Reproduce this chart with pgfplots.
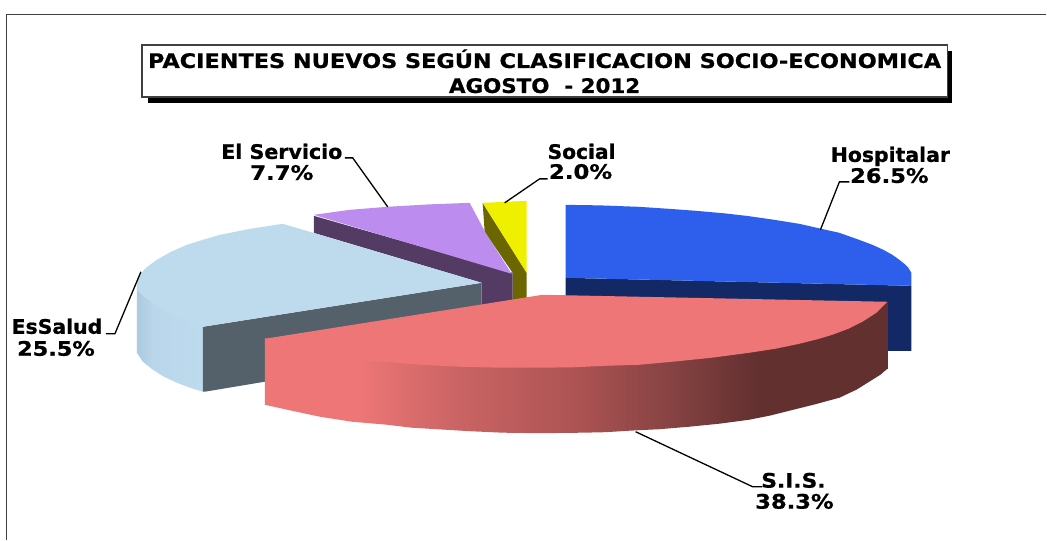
\documentclass[border=0pt]{standalone}
\usepackage{graphicx}
\usepackage{pgfplots}
\pgfplotsset{compat=1.18}
\usepackage{fontspec}
\setmainfont[BoldFeatures={FakeBold=0.8}]{DejaVu Sans}
\definecolor{bluetop}{HTML}{2D5FEC}
\definecolor{bluedark}{HTML}{122966}
\definecolor{redtop}{HTML}{EE7676}
\definecolor{skytop}{HTML}{BEDBEE}
\definecolor{slate}{HTML}{55616A}
\definecolor{violettop}{HTML}{BC8CEE}
\definecolor{violetdark}{HTML}{533B63}
\definecolor{yellowtop}{HTML}{EFEF00}
\definecolor{olive2}{HTML}{6B6600}
\definecolor{redA}{HTML}{CC6565}
\definecolor{redB}{HTML}{AD5353}
\definecolor{redC}{HTML}{874343}
\definecolor{redD}{HTML}{633030}
\definecolor{skyA}{HTML}{ACCBE0}
\definecolor{skyB}{HTML}{B9D6EA}
\pgfdeclarehorizontalshading{redside}{100bp}{
 color(0bp)=(redtop); color(32.5bp)=(redtop); color(40bp)=(redA);
 color(50bp)=(redB); color(57.5bp)=(redC);
 color(64.5bp)=(redD); color(100bp)=(redD)}
\pgfdeclarehorizontalshading{skyside}{100bp}{
 color(0bp)=(skyA); color(25bp)=(skyA); color(37.5bp)=(skyB);
 color(75bp)=(skytop); color(100bp)=(skytop)}
\newcommand{\lab}[4]{\node[anchor=base,inner sep=0pt,font=\fontsize{20}{20}\selectfont\bfseries] at (axis cs:#1,#2) {\scalebox{#4}[1]{#3}};}
\begin{document}
\begin{tikzpicture}
\begin{axis}[
  scale only axis, width=1047pt, height=540pt,
  xmin=0, xmax=1047, ymin=0, ymax=540, y dir=reverse,
  hide axis, clip=false]
% page
\addplot[draw=none, fill=white, forget plot] coordinates {(0,0) (1047,0) (1047,540) (0,540)} -- cycle;
% frame
\addplot[color=black!75, line width=1.5pt, forget plot] coordinates {(6.5,540) (6.5,14.5) (1047,14.5)};
% title box
\addplot[draw=none, fill=black, forget plot] coordinates {(148,51) (953,51) (953,103) (148,103)} -- cycle;
\addplot[draw=black!75, line width=1.3pt, fill=white, forget plot] coordinates {(142,45) (948,45) (948,97) (142,97)} -- cycle;
% Hospitalar
\addplot[draw=none, fill=bluedark, forget plot] coordinates {(566,278) (912,286) (912,351) (880,351) (880,310) (566,310)} -- cycle;
\addplot[draw=none, fill=bluetop, forget plot] coordinates {(566,205) (600,205.5) (640,207) (670,209) (697,211) (725,213.5) (747,216) (775,220) (800,224) (822,229) (840,233) (857,239) (873,245) (884,250) (893,255) (900,260) (905,264) (909,268) (912,273) (912,286) (566,278)} -- cycle;
% Social
\addplot[draw=none, fill=olive2, forget plot] coordinates {(483,203) (485,232) (513,273) (513,303) (527,303) (527,273)} -- cycle;
\addplot[draw=none, fill=yellowtop, forget plot] coordinates {(483,203) (527,201) (527,273)} -- cycle;
% El Servicio
\addplot[draw=none, fill=violetdark, forget plot] coordinates {(314,216) (513,273) (513,303) (482,312) (482,283) (314,233)} -- cycle;
\addplot[draw=none, fill=violettop, forget plot] coordinates {(314,215) (350,210) (387,207) (430,204.5) (470,203) (486,233) (512,274)} -- cycle;
% EsSalud
\addplot[draw=none, shade, shading=skyside, forget plot] coordinates {(137,288) (137,353) (143,362) (153,370) (164,377) (177,383) (190,388) (203,392) (203,327)} -- cycle;
\addplot[draw=none, fill=slate, forget plot] coordinates {(203,327) (482,283) (482,325) (265,382) (205,392) (203,392)} -- cycle;
\addplot[draw=none, fill=skytop, forget plot] coordinates {(283,224) (482,283) (203,327) (190,322.5) (177,317) (165,311) (153,303) (144,297) (137,290) (137,283) (138,277) (146,268) (157,260) (171,252) (187,245) (203,240) (220,235) (250,229)} -- cycle;
% S.I.S.
\addplot[draw=none, shade, shading=redside, forget plot] coordinates {(265,339) (888,302) (888,369) (881,375) (873,380) (857,390) (840,398) (816,404.5) (790,411) (770,416) (750,420) (720,424) (690,427) (660,429.5) (630,431) (606,432.5) (583,433) (540,433.5) (503,433) (470,431.5) (437,429.5) (412,428) (387,425) (352,422) (320,417) (292,411) (265,405)} -- cycle;
\addplot[draw=none, fill=redtop, forget plot] coordinates {(265,339) (543,295) (888,302) (877,313) (863,322) (849,329) (833,335) (818,339.5) (800,344) (776,349) (750,353) (712,358) (673,362) (640,365) (607,366) (575,367.5) (540,368) (503,368) (460,367) (420,365) (370,361) (320,354) (290,347)} -- cycle;
% leaders
\addplot[black, line width=1.3pt, forget plot] coordinates {(345,158) (353,158) (388,207)};
\addplot[black, line width=1.3pt, forget plot] coordinates {(548,179) (540,179) (505,203)};
\addplot[black, line width=1.3pt, forget plot] coordinates {(850,182) (840,182) (821,230)};
\addplot[black, line width=1.3pt, forget plot] coordinates {(106,334) (115,334) (141,272)};
\addplot[black, line width=1.3pt, forget plot] coordinates {(636,432) (753,487) (763,487)};
% labels
\lab{545}{68}{PACIENTES NUEVOS SEGÚN CLASIFICACION SOCIO-ECONOMICA}{1.12}
\lab{545}{93}{AGOSTO\ \ - 2012}{1.07}
\lab{891}{162}{Hospitalar}{1.02}
\lab{890}{183}{26.5\%}{1.13}
\lab{282}{159}{El Servicio}{1.03}
\lab{282}{180}{7.7\%}{1.14}
\lab{582}{159}{Social}{1.01}
\lab{581}{179}{2.0\%}{1.14}
\lab{57}{334}{EsSalud}{1.02}
\lab{56}{356}{25.5\%}{1.12}
\lab{794}{488}{S.I.S.}{1.09}
\lab{795}{509}{38.3\%}{1.13}
\end{axis}
\end{tikzpicture}
\end{document}
